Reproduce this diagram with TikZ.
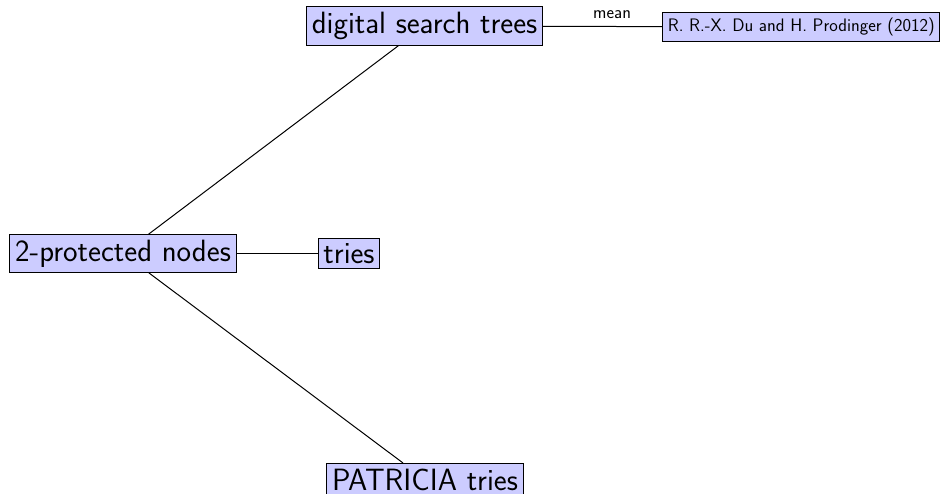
\documentclass[tikz,border=0pt]{standalone}
\usepackage{fontspec}
\begin{document}
\begin{tikzpicture}[x=1pt,y=1pt,
  topic/.style={draw=black, line width=1pt, fill=blue!20, inner sep=5.2pt,
    font=\sffamily\fontsize{30.8}{37}\selectfont},
  refbox/.style={draw=black, line width=1pt, fill=blue!20, inner sep=5.2pt,
    font=\sffamily\fontsize{18.1}{22}\selectfont},
  link/.style={draw=black, line width=1pt},
  edgelabel/.style={font=\sffamily\fontsize{18}{22}\selectfont, anchor=base, inner sep=0pt}]
  \useasboundingbox (0,0) rectangle (940,494);
  % topic nodes
  \node[topic] (dst) at (424.5,468) {digital search trees};
  \node[refbox] (rr) at (801.3,467) {R. R.-X. Du and H. Prodinger (2012)};
  \node[topic] (pn) at (123,240.5) {2-protected nodes};
  \node[topic] (tries) at (349,240.5) {tries};
  \node[topic] (pat) at (425,14.5) {PATRICIA tries};
  % connectors
  \draw[link] (pn) -- (dst);
  \draw[link] (pn) -- (tries);
  \draw[link] (pn) -- (pat);
  \draw[link] (dst) -- node[edgelabel, pos=0.58, yshift=7.5pt] {mean} (rr);
\end{tikzpicture}
\end{document}
